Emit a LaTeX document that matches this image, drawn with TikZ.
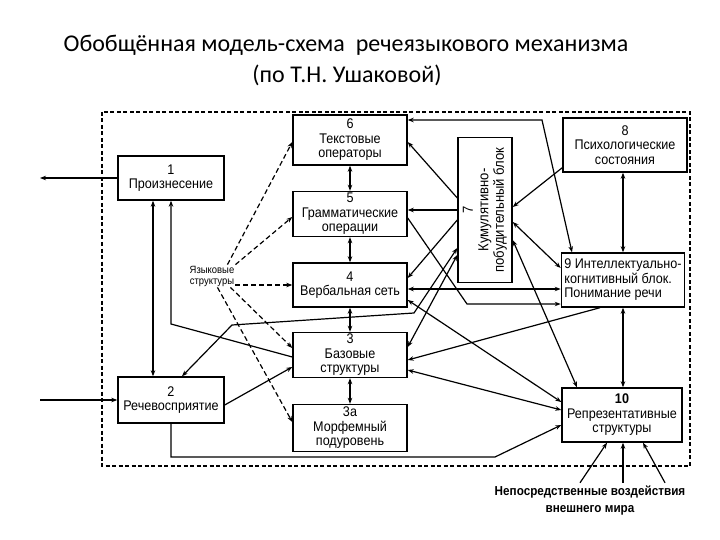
\documentclass[tikz,border=0pt]{standalone}
\usepackage{fontspec}
\setmainfont{Liberation Sans}
\newfontfamily\titlefont{Carlito}
\newfontfamily\schemefont[FakeStretch=0.9]{Liberation Sans}
\usetikzlibrary{arrows.meta, calc}

\tikzset{
   blockbox/.style={draw, line width=1.4pt, fill=white, align=center, inner sep=1pt,
      font=\schemefont\fontsize{14}{14.5}\selectfont},
   wire/.style={line width=1.2pt},
   dbl/.style={wire, {Stealth[length=6pt,width=4.5pt]}-{Stealth[length=6pt,width=4.5pt]}},
   fwd/.style={wire, -{Stealth[length=6pt,width=4.5pt]}},
   langline/.style={line width=1.2pt, dash pattern=on 5pt off 3pt, -{Stealth[length=6pt,width=4.5pt]}}
}

\begin{document}
\begin{tikzpicture}[x=1pt, y=-1pt]
            \useasboundingbox (0,0) rectangle (720,540);
            % Title
            \node[font=\titlefont\fontsize{24}{27}\selectfont] (title1) at (346,45)
               {Обобщённая модель-схема \ речеязыкового механизма};
            \node[font=\titlefont\fontsize{24}{27}\selectfont] (title2) at (347,75)
               {(по Т.Н. Ушаковой)};
            % Outer dashed frame
            \draw[line width=1.1pt, dash pattern=on 4pt off 2.5pt] (102,112) rectangle (690,466);
            % Blocks
            \node[blockbox, minimum width=106pt, minimum height=44pt] (b1) at (171,178) {1\\Произнесение};
            \node[blockbox, minimum width=106pt, minimum height=46pt] (b2) at (171,400) {2\\Речевосприятие};
            \node[blockbox, minimum width=114pt, minimum height=50pt] (b6) at (350,140) {6\\Текстовые\\операторы};
            \node[blockbox, minimum width=114pt, minimum height=45pt] (b5) at (350,214) {5\\Грамматические\\операции};
            \node[blockbox, minimum width=114pt, minimum height=44pt] (b4) at (350,285) {4\\Вербальная сеть};
            \node[blockbox, minimum width=114pt, minimum height=45pt] (b3) at (350,355) {3\\Базовые\\структуры};
            \node[blockbox, minimum width=114pt, minimum height=47pt] (b3a) at (350,428) {3а\\Морфемный\\подуровень};
            \node[blockbox, minimum width=54pt, minimum height=145pt] (b7) at (485,210) {};
            \node[rotate=90, align=center, inner sep=0pt, font=\schemefont\fontsize{14.5}{15.5}\selectfont] (b7text) at (b7.center)
               {7\\Кумулятивно-\\побудительный блок};
            \node[blockbox, minimum width=124pt, minimum height=54pt] (b8) at (625,145) {8\\Психологические\\состояния};
            \node[blockbox, align=left, minimum width=120pt, minimum height=54pt, inner sep=3pt] (b9) at (623,280)
               {9 Интеллектуально-\\когнитивный блок.\\Понимание речи};
            \node[blockbox, minimum width=120pt, minimum height=54pt] (b10) at (622,415)
               {{\bfseries 10}\\Репрезентативные\\структуры};
            % Language structures label
            \node[align=center, inner sep=1pt, font=\schemefont\fontsize{10.5}{11}\selectfont] (lang) at (212,276) {Языковые\\структуры};
            % External world label
            \node[align=center, font=\schemefont\bfseries\fontsize{13}{17}\selectfont] (world) at (590,501)
               {Непосредственные воздействия\\внешнего мира};
            % Output and input
            \coordinate (speechout) at (40,178);
            \coordinate (speechin) at (40,400);
            \draw[fwd] (b1.west) -- (speechout);
            \draw[fwd] (speechin) -- (b2.west);
            % Between 1 and 2
            \draw[dbl] ([xshift=-18pt]b1.south) -- ([xshift=-18pt]b2.north);
            \draw[fwd] ([yshift=-2pt]b3.west) -- (171,324) -- (b1.south);
            % Central column
            \foreach \a/\b in {b6/b5, b5/b4, b4/b3, b3/b3a}
               \draw[dbl] (\a.south) -- (\b.north);
            % Dashed lines from the language structures
            \draw[langline] ([xshift=-8pt]lang.north east) -- ([yshift=-2pt]b6.west);
            \draw[langline] (lang.north east) -- ([yshift=-3pt]b5.west);
            \draw[langline] (lang.east |- b4.west) -- (b4.west);
            \draw[langline] ([xshift=-5pt]lang.south east) -- ([yshift=7pt]b3.west);
            \draw[langline] ([xshift=-18pt]lang.south east) -- ([yshift=6pt]b3a.west);
            % From 2
            \draw[dbl] ([xshift=11pt]b2.north) -- (232,325) -- (414,313) -- ([yshift=-38pt]b7.west);
            \draw[fwd] ([yshift=-5pt]b2.east) -- ([yshift=-12pt]b3.west);
            \draw[fwd] (b2.south) -- (171,457) -- (495,457) -- ([yshift=-10pt]b10.west);
            % 7 to the column
            \draw[fwd] ([yshift=12pt]b7.west) -- ([yshift=-2pt]b6.east);
            \draw[fwd] (b7.west) -- (b7.west -| b5.east);
            \draw[fwd] ([yshift=-10pt]b7.west) -- ([yshift=7pt]b4.east);
            \draw[dbl] ([yshift=-45pt]b7.west) -- ([yshift=8pt]b3.east);
            % 6 and 9, 5 to 9
            \draw[dbl] ([yshift=20pt]b6.east) -- (542,120) -- ([xshift=-51pt]b9.north);
            \draw[fwd] ([yshift=-4pt]b5.east) -- (467,304) -- ([yshift=-24pt]b9.west);
            % 4 with 9 and 10
            \draw[dbl] ([yshift=-4pt]b4.east) -- ([yshift=-4pt]b4.east -| b9.west);
            \draw[dbl] ([yshift=-15pt]b4.east) -- ([yshift=13pt]b10.west);
            % 3 with 9 and 10
            \draw[fwd] ([xshift=-23pt]b9.south) -- ([yshift=-5pt]b3.east);
            \draw[dbl] ([yshift=-15pt]b3.east) -- ([yshift=5pt]b10.west);
            % 7 with 8, 9, 10
            \draw[fwd] ([yshift=5pt]b8.south west) -- ([yshift=3pt]b7.east);
            \draw[dbl] ([yshift=-12pt]b7.east) -- ([yshift=12pt]b9.west);
            \draw[dbl] ([yshift=-30pt]b7.east) -- ([xshift=-45pt]b10.north);
            % Right column
            \draw[dbl] (b9.north |- b8.south) -- (b9.north);
            \draw[dbl] (b9.south) -- (b9.south |- b10.north);
            % External world into 10
            \draw[fwd] ([xshift=-10pt]world.north) -- ([xshift=-15pt]b10.south);
            \draw[fwd] ([xshift=33pt]world.north) -- ([xshift=1pt]b10.south);
            \draw[fwd] ([xshift=75pt]world.north) -- ([xshift=21pt]b10.south);
         \end{tikzpicture}
\end{document}
